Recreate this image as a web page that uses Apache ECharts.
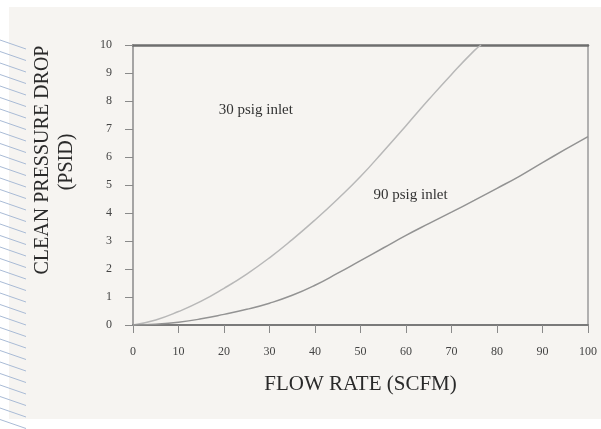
<!DOCTYPE html>
<html>
<head>
<meta charset="utf-8">
<script src="https://cdn.jsdelivr.net/npm/echarts@6/dist/echarts.min.js"></script>
<style>
html,body{margin:0;padding:0;background:#ffffff;}
#chart{width:601px;height:429px;}
</style>
</head>
<body>
<div id="chart"></div>
<script>
// Data (flow rate SCFM -> clean pressure drop PSID)
const flow30 = [0, 5, 10, 15, 20, 25, 30, 35, 40, 45, 50, 55, 60, 65, 70, 75, 76.5];
const drop30 = [0, 0.18, 0.48, 0.85, 1.31, 1.82, 2.4, 3.05, 3.75, 4.5, 5.3, 6.2, 7.12, 8.05, 8.95, 9.8, 10];
const flow90 = [0, 5, 10, 15, 20, 25, 30, 35, 40, 45, 50, 55, 60, 65, 70, 75, 80, 85, 90, 95, 100];
const drop90 = [0, 0.03, 0.1, 0.22, 0.38, 0.56, 0.78, 1.06, 1.42, 1.85, 2.3, 2.75, 3.2, 3.62, 4.03, 4.45, 4.88, 5.32, 5.8, 6.27, 6.73];
const seriesNames = ['30 psig inlet', '90 psig inlet'];
const labelPos30 = [27, 7.68];
const labelPos90 = [61, 4.64];
const xTitle = 'FLOW RATE (SCFM)';
const yTitle = ['CLEAN PRESSURE DROP', '(PSID)'];

const serif = '"Liberation Serif", "DejaVu Serif", serif';
const chart = echarts.init(document.getElementById('chart'));

// decorative hatch lines on the left page edge
const hatch = [];
for (let y = 40; y < 430; y += 11.5) {
  hatch.push({
    type: 'line',
    shape: { x1: 0, y1: y, x2: 26, y2: y + 9 },
    style: { stroke: '#a9bbd6', lineWidth: 1 },
    z: -5
  });
}

chart.setOption({
  backgroundColor: '#ffffff',
  animation: false,
  graphic: [
    { type: 'rect', shape: { x: 9, y: 7, width: 592, height: 412 }, style: { fill: '#f6f4f1' }, z: -10 },
    ...hatch,
    {
      type: 'text',
      x: 43, y: 160, rotation: Math.PI / 2,
      style: { text: yTitle[0], font: '20px ' + serif, fill: '#2a2a2a', textAlign: 'center', textVerticalAlign: 'middle' }
    },
    {
      type: 'text',
      x: 67, y: 162, rotation: Math.PI / 2,
      style: { text: yTitle[1], font: '20px ' + serif, fill: '#2a2a2a', textAlign: 'center', textVerticalAlign: 'middle' }
    }
  ],
  grid: { left: 133, right: 13, top: 45, bottom: 104, containLabel: false },
  xAxis: [
    {
      type: 'value', min: 0, max: 100, interval: 10,
      name: xTitle, nameLocation: 'middle', nameGap: 49,
      nameTextStyle: { fontFamily: serif, fontSize: 21, color: '#2a2a2a' },
      axisLine: { show: true, onZero: false, lineStyle: { color: '#7a7a7a', width: 2 } },
      axisTick: { show: true, inside: false, length: 8, lineStyle: { color: '#8a8a8a', width: 1 } },
      axisLabel: { margin: 21, fontFamily: serif, fontSize: 12, color: '#444' },
      splitLine: { show: false }
    },
    {
      type: 'value', min: 0, max: 100, interval: 10, position: 'top',
      axisLine: { show: true, onZero: false, lineStyle: { color: '#6e6e6e', width: 2.5 } },
      axisTick: { show: false }, axisLabel: { show: false }, splitLine: { show: false }
    }
  ],
  yAxis: [
    {
      type: 'value', min: 0, max: 10, interval: 1,
      axisLine: { show: true, onZero: false, lineStyle: { color: '#8a8a8a', width: 1.5 } },
      axisTick: { show: true, inside: false, length: 8, lineStyle: { color: '#8a8a8a', width: 1 } },
      axisLabel: { margin: 21, fontFamily: serif, fontSize: 12, color: '#444' },
      splitLine: { show: false }
    },
    {
      type: 'value', min: 0, max: 10, interval: 1, position: 'right',
      axisLine: { show: true, onZero: false, lineStyle: { color: '#9a9a9a', width: 1.5 } },
      axisTick: { show: false }, axisLabel: { show: false }, splitLine: { show: false }
    }
  ],
  series: [
    {
      name: seriesNames[0], type: 'line', smooth: true, symbol: 'none',
      data: flow30.map((x, i) => [x, drop30[i]]),
      lineStyle: { color: '#b8b8b8', width: 1.5 },
      markPoint: {
        symbolSize: 0,
        data: [{ coord: labelPos30, value: seriesNames[0] }],
        label: { show: true, formatter: seriesNames[0], position: 'inside', fontFamily: serif, fontSize: 15, color: '#333' }
      }
    },
    {
      name: seriesNames[1], type: 'line', smooth: true, symbol: 'none',
      data: flow90.map((x, i) => [x, drop90[i]]),
      lineStyle: { color: '#939393', width: 1.5 },
      markPoint: {
        symbolSize: 0,
        data: [{ coord: labelPos90, value: seriesNames[1] }],
        label: { show: true, formatter: seriesNames[1], position: 'inside', fontFamily: serif, fontSize: 15, color: '#333' }
      }
    }
  ]
});
</script>
</body>
</html>
